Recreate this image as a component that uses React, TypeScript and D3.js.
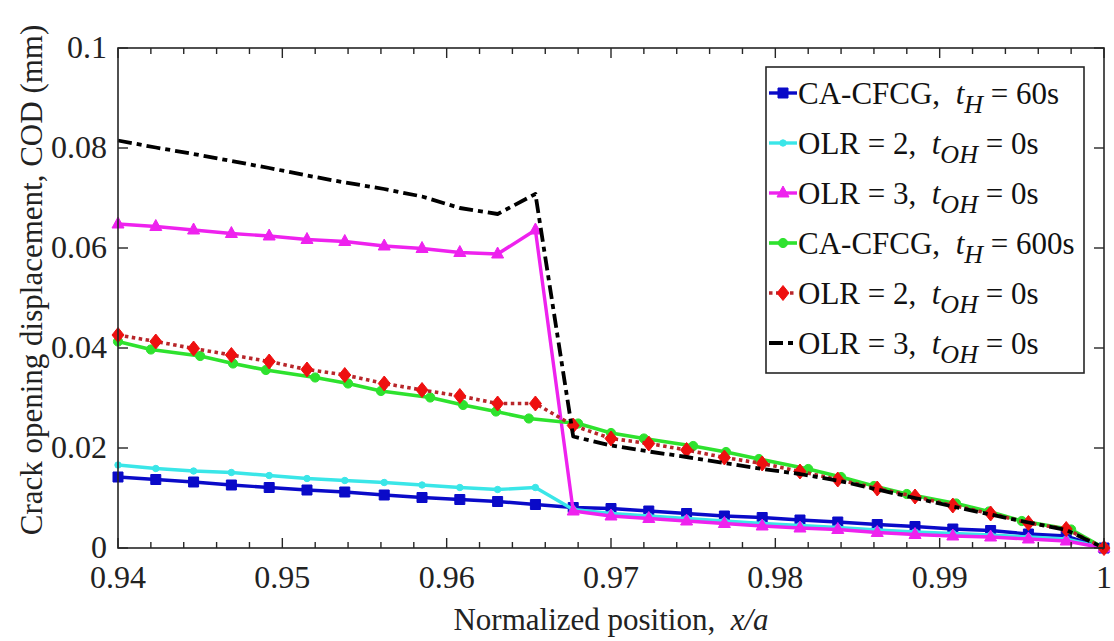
import React from "react";
import * as d3 from "d3";

// ---- data ----
const xTicks = [0.94, 0.95, 0.96, 0.97, 0.98, 0.99, 1.0];
const xTickLabels = ["0.94", "0.95", "0.96", "0.97", "0.98", "0.99", "1"];
const yTicks = [0, 0.02, 0.04, 0.06, 0.08, 0.1];
const yTickLabels = ["0", "0.02", "0.04", "0.06", "0.08", "0.1"];

// common mesh (OLR results and CA-CFCG 60s)
const xMesh = [
  0.94, 0.9423, 0.9446, 0.9469, 0.9492, 0.9515, 0.9538, 0.9562, 0.9585, 0.9608,
  0.9631, 0.9654, 0.9677, 0.97, 0.9723, 0.9746, 0.9769, 0.9792, 0.9815, 0.9838,
  0.9862, 0.9885, 0.9908, 0.9931, 0.9954, 0.9977, 1.0,
];
// mesh for CA-CFCG 600s (rounded positions)
const xMeshG = [
  0.94, 0.942, 0.945, 0.947, 0.949, 0.952, 0.954, 0.956, 0.959, 0.961, 0.963,
  0.965, 0.968, 0.97, 0.972, 0.975, 0.977, 0.979, 0.982, 0.984, 0.986, 0.988,
  0.991, 0.993, 0.995, 0.998, 1.0,
];

const cfcg60 = [
  0.0142, 0.0137, 0.0132, 0.0126, 0.0121, 0.0116, 0.0112, 0.0106, 0.0101, 0.0097,
  0.0093, 0.0087, 0.0081, 0.0079, 0.0074, 0.0069, 0.0064, 0.0061, 0.0056, 0.0052,
  0.0047, 0.0043, 0.0038, 0.0035, 0.0028, 0.0024, 0,
];
const olr2a = [
  0.0166, 0.0159, 0.0154, 0.0151, 0.0145, 0.0139, 0.0135, 0.0131, 0.0126, 0.0121,
  0.0117, 0.0121, 0.0077, 0.0069, 0.0064, 0.0059, 0.0054, 0.0049, 0.0045, 0.0041,
  0.0036, 0.0032, 0.0029, 0.0026, 0.0022, 0.0018, 0,
];
const olr3a = [
  0.0648, 0.0643, 0.0636, 0.0629, 0.0624, 0.0617, 0.0613, 0.0604, 0.0599, 0.0591,
  0.0588, 0.0636, 0.0074, 0.0064, 0.0059, 0.0054, 0.0049, 0.0044, 0.004, 0.0037,
  0.0031, 0.0027, 0.0024, 0.0022, 0.0018, 0.0014, 0,
];
const cfcg600 = [
  0.0413, 0.0397, 0.0384, 0.0369, 0.0356, 0.0341, 0.0329, 0.0314, 0.0301, 0.0286,
  0.0273, 0.0259, 0.0249, 0.023, 0.0219, 0.0204, 0.0192, 0.0178, 0.0158, 0.0142,
  0.0124, 0.0108, 0.0089, 0.0073, 0.0054, 0.0037, 0,
];
const olr2b = [
  0.0426, 0.0413, 0.0399, 0.0386, 0.0373, 0.0357, 0.0346, 0.0329, 0.0316, 0.0304,
  0.0289, 0.0289, 0.0245, 0.0219, 0.0209, 0.0196, 0.0181, 0.0169, 0.0153, 0.0137,
  0.0119, 0.0103, 0.0085, 0.0069, 0.005, 0.0038, 0,
];
const olr3b = [
  0.0815, 0.0801, 0.0788, 0.0774, 0.076, 0.0745, 0.0731, 0.0718, 0.0703, 0.068,
  0.0668, 0.0708, 0.0223, 0.0205, 0.0193, 0.0182, 0.017, 0.0158, 0.0148, 0.0135,
  0.0117, 0.01, 0.0083, 0.0067, 0.0051, 0.0036, 0,
];

type Series = {
  main: string;
  sub: string;
  rest: string;
  xs: number[];
  ys: number[];
  color: string;
  markerColor: string;
  marker: "square" | "dot" | "triangle" | "circle" | "diamond" | "none";
  dash?: string;
  width: number;
};

const series: Series[] = [
  { main: "CA-CFCG,  ", sub: "H", rest: " = 60s", xs: xMesh, ys: cfcg60, color: "#0a0ac8", markerColor: "#0a0ac8", marker: "square", width: 3.4 },
  { main: "OLR = 2,  ", sub: "OH", rest: " = 0s", xs: xMesh, ys: olr2a, color: "#3ae6e8", markerColor: "#3ae6e8", marker: "dot", width: 3.4 },
  { main: "OLR = 3,  ", sub: "OH", rest: " = 0s", xs: xMesh, ys: olr3a, color: "#ee22ee", markerColor: "#ee22ee", marker: "triangle", width: 3.4 },
  { main: "CA-CFCG,  ", sub: "H", rest: " = 600s", xs: xMeshG, ys: cfcg600, color: "#2ee22e", markerColor: "#2ee22e", marker: "circle", width: 3.6 },
  { main: "OLR = 2,  ", sub: "OH", rest: " = 0s", xs: xMesh, ys: olr2b, color: "#b8262a", markerColor: "#ee1010", marker: "diamond", dash: "3.5,3.5", width: 3.6 },
  { main: "OLR = 3,  ", sub: "OH", rest: " = 0s", xs: xMesh, ys: olr3b, color: "#000000", markerColor: "#000", marker: "none", dash: "14,5,5,5", width: 3.8 },
];

const W = 1114;
const H = 641;
const left = 118, right = 1104, top = 48, bottom = 548;
const FONT = "Liberation Serif";

function markerPath(kind: Series["marker"], cx: number, cy: number): string {
  switch (kind) {
    case "square":
      return `M${cx - 5},${cy - 5}h10v10h-10Z`;
    case "triangle":
      return `M${cx},${cy - 7}L${cx + 6},${cy + 4}L${cx - 6},${cy + 4}Z`;
    case "diamond":
      return `M${cx},${cy - 7.5}L${cx + 6},${cy}L${cx},${cy + 7.5}L${cx - 6},${cy}Z`;
    case "circle":
      return `M${cx - 4.6},${cy}a4.6,4.6 0 1,0 9.2,0a4.6,4.6 0 1,0 -9.2,0`;
    case "dot":
      return `M${cx - 3.2},${cy}a3.2,3.2 0 1,0 6.4,0a3.2,3.2 0 1,0 -6.4,0`;
    default:
      return "";
  }
}

export default function App() {
  const x = d3.scaleLinear().domain([0.94, 1]).range([left, right]);
  const y = d3.scaleLinear().domain([0, 0.1]).range([bottom, top]);
  const minorX = d3.range(0, 31).map((i) => 0.94 + i * 0.002);

  const legX = 766, legY = 67, legW = 318, legH = 306;
  const rowY = (i: number) => 93 + i * 50;

  return (
    <svg
      width={W}
      height={H}
      style={{ position: "fixed", left: 0, top: 0, background: "#fff" }}
    >
      <rect x={0} y={0} width={W} height={H} fill="#fff" />
      {/* series */}
      {series.map((s, si) => {
        const line = d3
          .line<number>()
          .x((_, i) => x(s.xs[i]))
          .y((v) => y(v));
        return (
          <g key={si}>
            <path
              d={line(s.ys) || ""}
              fill="none"
              stroke={s.color}
              strokeWidth={s.width}
              strokeDasharray={s.dash}
              strokeLinejoin="round"
            />
            {s.marker !== "none" &&
              s.ys.map((v, i) => (
                <path key={i} d={markerPath(s.marker, x(s.xs[i]), y(v))} fill={s.markerColor} stroke={s.markerColor} strokeWidth={1} />
              ))}
          </g>
        );
      })}

      {/* frame */}
      <rect x={left} y={top} width={right - left} height={bottom - top} fill="none" stroke="#262626" strokeWidth={1.6} />
      {/* x ticks */}
      {minorX.map((t, i) => {
        const isMajor = i % 5 === 0;
        const len = isMajor ? 10 : 6;
        const px = x(t);
        return (
          <g key={"mx" + i} stroke="#262626" strokeWidth={1.4}>
            <line x1={px} x2={px} y1={bottom} y2={bottom - len} />
            <line x1={px} x2={px} y1={top} y2={top + len} />
          </g>
        );
      })}
      {xTicks.map((t, i) => (
        <text key={"xt" + i} x={x(t)} y={588} textAnchor="middle" fontSize={32} fill="#222" fontFamily={FONT}>
          {xTickLabels[i]}
        </text>
      ))}
      {/* y ticks */}
      {yTicks.map((t, i) => (
        <g key={"yt" + i}>
          <line x1={left} x2={left + 10} y1={y(t)} y2={y(t)} stroke="#262626" strokeWidth={1.4} />
          <line x1={right} x2={right - 10} y1={y(t)} y2={y(t)} stroke="#262626" strokeWidth={1.4} />
          <text x={107} y={y(t) + 10} textAnchor="end" fontSize={32} fill="#222" fontFamily={FONT}>
            {yTickLabels[i]}
          </text>
        </g>
      ))}

      {/* axis labels */}
      <text
        transform={`translate(42,${280}) rotate(-90)`}
        textAnchor="middle"
        fontSize={31}
        fill="#222"
        fontFamily={FONT}
      >
        Crack opening displacement, COD (mm)
      </text>
      <text x={(left + right) / 2} y={630} textAnchor="middle" fontSize={31} fill="#222" fontFamily={FONT} style={{ whiteSpace: "pre" }}>
        {"Normalized position,  "}
        <tspan fontStyle="italic">x/a</tspan>
      </text>

      {/* legend */}
      <rect x={legX} y={legY} width={legW} height={legH} fill="#fff" stroke="#262626" strokeWidth={1.6} />
      {series.map((s, i) => {
        const cy = rowY(i);
        return (
          <g key={"lg" + i}>
            <line x1={769} x2={797} y1={cy} y2={cy} stroke={s.color} strokeWidth={s.width} strokeDasharray={s.dash} />
            {s.marker !== "none" && (
              <path d={markerPath(s.marker, 783, cy)} fill={s.markerColor} stroke={s.markerColor} strokeWidth={1} />
            )}
            <text x={798} y={cy + 11} fontSize={31} fill="#111" fontFamily={FONT} style={{ whiteSpace: "pre" }}>
              {s.main}
              <tspan fontStyle="italic">t</tspan>
              <tspan fontStyle="italic" fontSize={26} dy={9}>
                {s.sub}
              </tspan>
              <tspan dy={-9}>{s.rest}</tspan>
            </text>
          </g>
        );
      })}
    </svg>
  );
}
